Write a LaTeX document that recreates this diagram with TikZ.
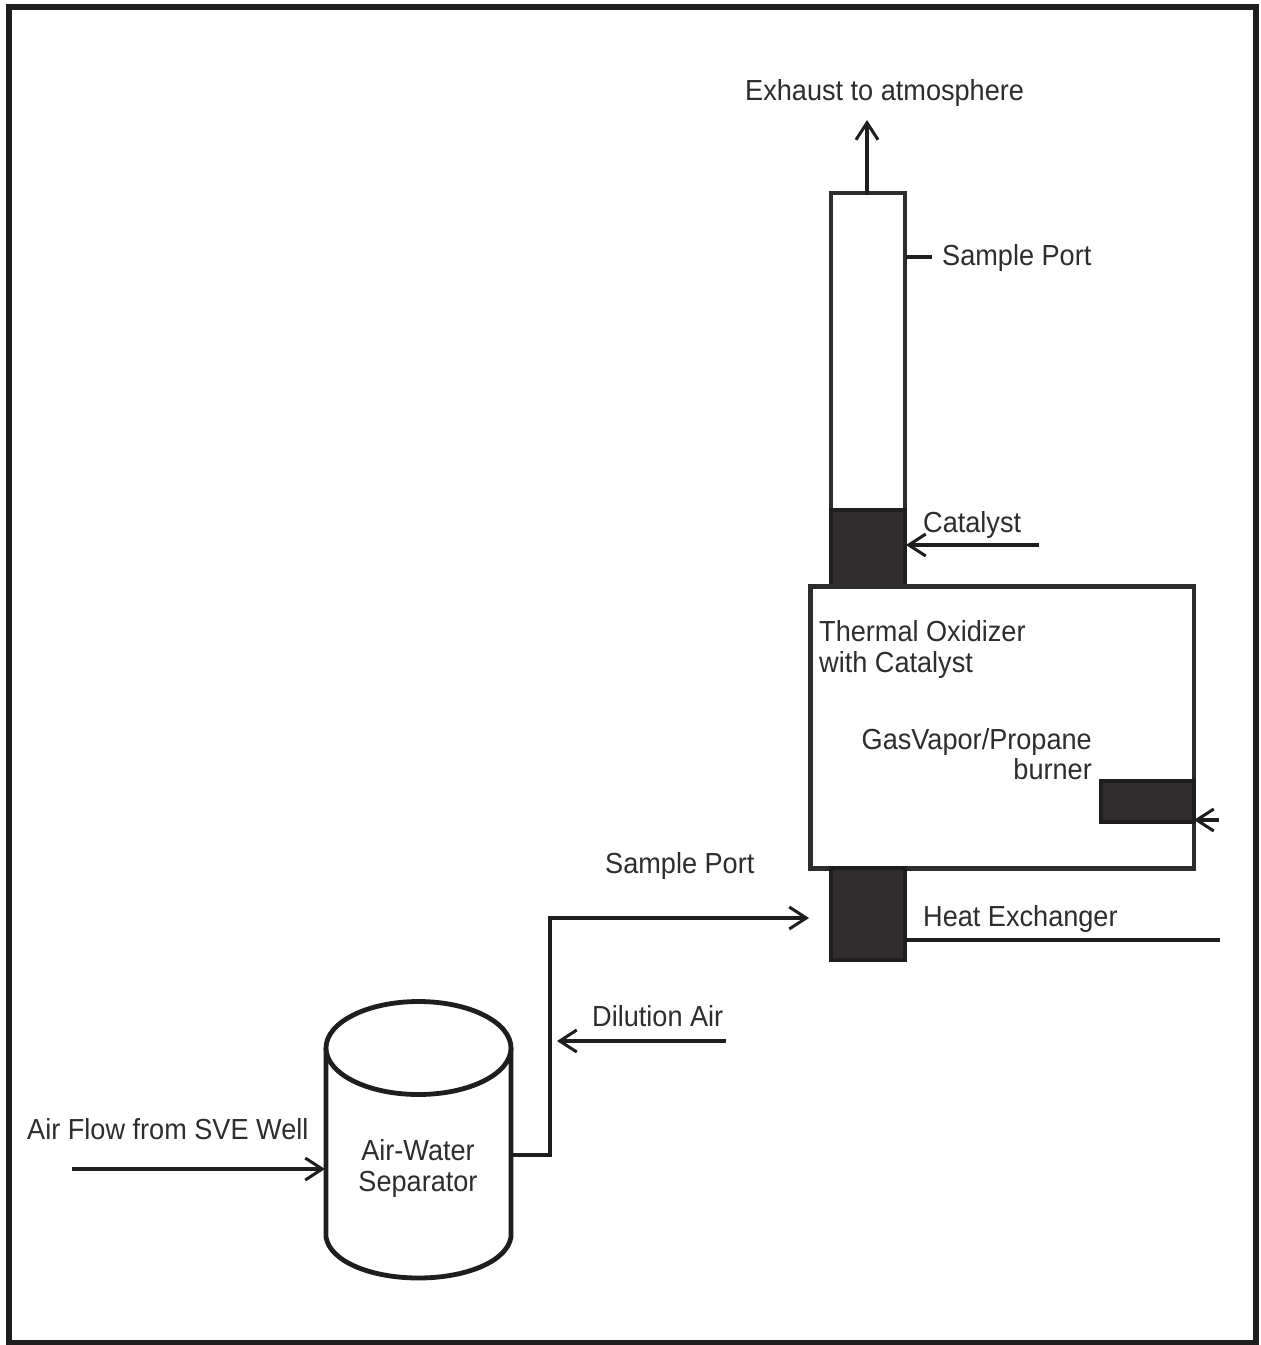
\documentclass[tikz,border=0pt]{standalone}
\usepackage{fontspec}
\setmainfont[FakeStretch=0.935]{Liberation Sans}
\usetikzlibrary{arrows.meta}
\definecolor{ink}{HTML}{2E2C2D}
\definecolor{edge}{HTML}{1F1D1E}
\tikzset{x=1pt,y=-1pt,
 box/.style={draw=ink,line width=4.6pt,fill=white,inner sep=0pt},
 dark/.style={draw=edge,line width=4.6pt,fill=ink},
 flow/.style={line width=3.2pt,draw=edge},
 vessel/.style={draw=edge,line width=4.8pt,fill=white},
 arr/.style={flow,-{Straight Barb[length=17pt,width=22pt,line width=3pt]}},
 lab/.style={font=\fontsize{29}{30}\selectfont,text=ink,inner sep=0pt,anchor=base west}}
\begin{document}
\begin{tikzpicture}
\useasboundingbox (0,0) rectangle (1261,1345);
\fill[white] (0,0) rectangle (1261,1345);
\draw[draw=edge,line width=5.5pt] (9,7) rectangle (1256,1343);
% stack
\draw[box] (831,193) rectangle (905,510);
\draw[dark] (831,510) rectangle (905,587);
\draw[box] (810.5,586.5) rectangle (1194,868.5);
\draw[dark] (831,868) rectangle (905,960);
\draw[dark] (1101,781) rectangle (1194,822);
% vessel
\draw[vessel] (326,1048) -- (326,1237) .. controls (330,1262) and (372,1278) .. (418.5,1278) .. controls (465,1278) and (507,1262) .. (511,1237) -- (511,1048);
\draw[vessel] (418.5,1048) ellipse[x radius=92.5,y radius=46.5];
\coordinate (exA) at (867,195); \coordinate (exB) at (867,120);
\draw[arr] (exA) -- (exB);
\coordinate (spA) at (906,257); \coordinate (spB) at (932,257);
\draw[flow] (spA) -- (spB);
\coordinate (caA) at (1039,545); \coordinate (caB) at (906,545);
\draw[arr] (caA) -- (caB);
\coordinate (buA) at (1219,820); \coordinate (buB) at (1194,820);
\draw[arr] (buA) -- (buB);
\coordinate (heA) at (905,940); \coordinate (heB) at (1220,940);
\draw[flow] (heA) -- (heB);
\coordinate (vA) at (511,1155); \coordinate (vB) at (809,918);
\draw[arr] (vA) -- (550,1155) -- (550,918) -- (vB);
\coordinate (diA) at (726,1041); \coordinate (diB) at (557,1041);
\draw[arr] (diA) -- (diB);
\coordinate (afA) at (72,1169); \coordinate (afB) at (325,1169);
\draw[arr] (afA) -- (afB);
\node[lab] (t1) at (745,100) {Exhaust to atmosphere};
\node[lab] (t2) at (942,265) {Sample Port};
\node[lab] (t3) at (923,532) {Catalyst};
\node[lab] (t4) at (819,641) {Thermal Oxidizer};
\node[lab] (t5) at (819,672) {with Catalyst};
\node[lab,anchor=base east] (t6) at (1092,749) {GasVapor/Propane};
\node[lab,anchor=base east] (t7) at (1092,779) {burner};
\node[lab] (t8) at (605,873) {Sample Port};
\node[lab] (t9) at (923,926) {Heat Exchanger};
\node[lab] (t10) at (592,1026) {Dilution Air};
\node[lab] (t11) at (27,1139) {Air Flow from SVE Well};
\node[lab,anchor=base] (t12) at (418,1160) {Air-Water};
\node[lab,anchor=base] (t13) at (418,1191) {Separator};
\end{tikzpicture}
\end{document}
